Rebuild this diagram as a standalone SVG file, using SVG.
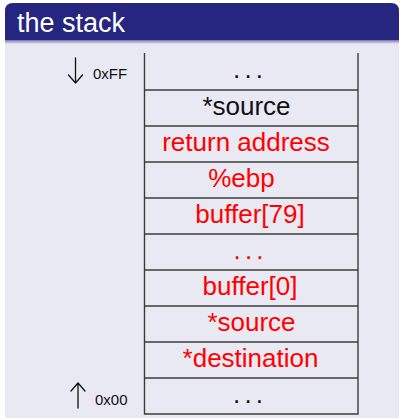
<svg xmlns="http://www.w3.org/2000/svg" width="401" height="420" viewBox="0 0 401 420">
  <defs>
    <linearGradient id="titleShade" x1="0" y1="0" x2="0" y2="1">
      <stop offset="0" stop-color="#7676b0"/>
      <stop offset="1" stop-color="#e9e9f3"/>
    </linearGradient>
    <style>
      .cell { fill: none; stroke: #3c3c3c; stroke-width: 1.4; }
      .lbl { font-family: "Liberation Sans", "DejaVu Sans", sans-serif; font-size: 26px; text-anchor: middle; }
      .red { fill: #ff0000; }
      .blk { fill: #111111; }
      .addr { font-family: "Liberation Sans", "DejaVu Sans", sans-serif; font-size: 15px; fill: #111111; }
      .arrow { fill: none; stroke: #111111; stroke-width: 1.3; stroke-linecap: round; stroke-linejoin: round; }
    </style>
  </defs>

  <rect x="0" y="0" width="401" height="420" fill="#ffffff"/>

  <!-- block body and title bar -->
  <g id="block">
    <rect x="5" y="36" width="394" height="382" fill="#e9e9f3"/>
    <path d="M5 40 V11 Q5 3 13 3 H391 Q399 3 399 11 V40 Z" fill="#262681"/>
    <rect x="5" y="40" width="394" height="4" fill="url(#titleShade)"/>
    <text x="17" y="32" font-family="Liberation Sans, DejaVu Sans, sans-serif" font-size="27" fill="#ffffff">the stack</text>
  </g>

  <!-- address markers -->
  <g id="top-marker">
    <path class="arrow" d="M75.5 58 V83 M68.5 75 L75.5 83 L82.5 75"/>
    <text class="addr" x="93" y="78.5">0xFF</text>
  </g>
  <g id="bottom-marker">
    <path class="arrow" d="M78 383 V408 M71 391 L78 383 L85 391"/>
    <text class="addr" x="95" y="404.5">0x00</text>
  </g>

  <!-- stack frame outline and row dividers -->
  <g id="connectors">
    <path class="cell" d="M144.5 53 V414 H358 V53"/>
    <path class="cell" d="M144.5 90 H358 M144.5 126 H358 M144.5 162 H358 M144.5 198 H358 M144.5 234 H358 M144.5 270 H358 M144.5 306 H358 M144.5 342 H358 M144.5 378 H358"/>
  </g>

  <!-- stack slots, highest address first -->
  <g id="slot-above"><text class="lbl blk" x="248" y="78" textLength="30">. . .</text></g>
  <g id="slot-source-caller"><text class="lbl blk" x="246.5" y="115">*source</text></g>
  <g id="slot-return"><text class="lbl red" x="246" y="151">return address</text></g>
  <g id="slot-ebp"><text class="lbl red" x="241.5" y="187">%ebp</text></g>
  <g id="slot-buffer79"><text class="lbl red" x="250" y="223">buffer[79]</text></g>
  <g id="slot-buffer-mid"><text class="lbl red" x="248.5" y="259" textLength="30">. . .</text></g>
  <g id="slot-buffer0"><text class="lbl red" x="250" y="295">buffer[0]</text></g>
  <g id="slot-source"><text class="lbl red" x="251.5" y="331">*source</text></g>
  <g id="slot-destination"><text class="lbl red" x="250.5" y="367">*destination</text></g>
  <g id="slot-below"><text class="lbl blk" x="248" y="403" textLength="30">. . .</text></g>
</svg>
